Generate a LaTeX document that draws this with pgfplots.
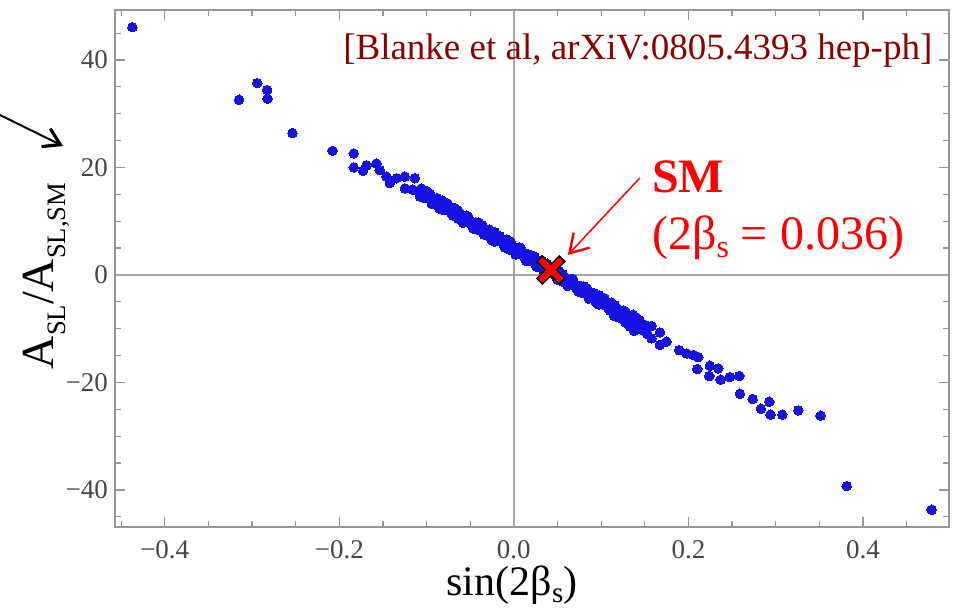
\documentclass[border=0pt]{standalone}
\usepackage{pgfplots}
\pgfplotsset{compat=1.18}
\usepackage{pgfplotstable}
\usepackage{fontspec}
\setmainfont{Liberation Serif}
\usetikzlibrary{arrows.meta}
\definecolor{dotblue}{RGB}{22,18,228}
\definecolor{refred}{RGB}{140,0,0}
\definecolor{framegray}{RGB}{150,150,150}
\definecolor{ticklab}{RGB}{70,70,70}
% subscript: #1 size in pt, #2 drop, #3 text
\newcommand{\sub}[3]{\raisebox{-#2}{\fontsize{#1}{#1}\selectfont #3}}

\pgfplotstableread{
x y
-0.437 46.1
-0.3148 32.6
-0.294 35.7
-0.2827 34.4
-0.2823 32.8
-0.2537 26.4
-0.2078 23.1
-0.1834 22.6
-0.1834 20.0
-0.1727 19.4
-0.1688 20.4
-0.1574 20.7
-0.1536 19.5
-0.1459 18.3
-0.1421 17.1
-0.1344 18.0
-0.1249 18.3
-0.1249 16.1
-0.1135 18.0
-0.1058 16.1
-0.1077 14.6
-0.110 15.6
-0.116 15.9
}\leftdata

\pgfplotstableread{
x y
-0.104 15.61
-0.100 14.42
-0.096 15.13
-0.092 13.34
-0.088 13.74
-0.084 12.25
-0.080 13.36
-0.076 12.37
-0.072 11.58
-0.068 12.48
-0.064 10.49
-0.060 11.10
-0.056 10.31
-0.052 10.72
-0.048 9.12
-0.044 9.73
-0.040 8.54
-0.036 9.25
-0.032 7.46
-0.028 7.86
-0.024 6.37
-0.020 7.48
-0.016 6.49
-0.012 5.70
-0.008 6.60
-0.004 4.61
0.000 5.22
0.004 4.43
0.008 4.84
0.012 3.24
0.016 3.85
0.020 2.66
0.024 3.37
0.028 1.58
0.032 1.98
0.036 0.49
0.040 1.60
0.044 0.61
0.048 -0.18
0.052 0.72
0.056 -1.27
0.060 -0.66
0.064 -1.45
0.068 -1.04
0.072 -2.64
0.076 -2.03
0.080 -3.22
0.084 -2.51
0.088 -4.30
0.092 -3.90
0.096 -5.39
0.100 -4.28
0.104 -5.27
0.108 -6.06
0.112 -5.16
0.116 -7.15
0.120 -6.54
0.124 -7.33
0.128 -6.92
0.132 -8.52
0.136 -7.91
0.140 -9.10
0.144 -8.39
}\bandA

\pgfplotstableread{
x y
-0.102 14.32
-0.098 15.22
-0.094 13.93
-0.090 14.14
-0.086 12.55
-0.082 13.86
-0.078 12.16
-0.074 12.27
-0.070 12.38
-0.066 10.89
-0.062 11.30
-0.058 9.70
-0.054 11.01
-0.050 9.72
-0.046 9.63
-0.042 8.44
-0.038 9.34
-0.034 8.05
-0.030 8.26
-0.026 6.67
-0.022 7.98
-0.018 6.28
-0.014 6.39
-0.010 6.50
-0.006 5.01
-0.002 5.42
0.002 3.82
0.006 5.13
0.010 3.84
0.014 3.75
0.018 2.56
0.022 3.46
0.026 2.17
0.030 2.38
0.034 0.79
0.038 2.10
0.042 0.40
0.046 0.51
0.050 0.62
0.054 -0.87
0.058 -0.46
0.062 -2.06
0.066 -0.75
0.070 -2.04
0.074 -2.13
0.078 -3.32
0.082 -2.42
0.086 -3.71
0.090 -3.50
0.094 -5.09
0.098 -3.78
0.102 -5.48
0.106 -5.37
0.110 -5.26
0.114 -6.75
0.118 -6.34
0.122 -7.94
0.126 -6.63
0.130 -7.92
0.134 -8.01
0.138 -9.20
0.142 -8.30
0.115 -7.6
0.120 -7.9
0.128 -8.9
0.133 -9.6
0.138 -10.4
}\bandB

\pgfplotstableread{
x y
-0.100 15.62
-0.094 13.23
-0.088 14.29
-0.082 12.16
-0.076 13.27
-0.070 11.08
-0.064 11.99
-0.058 9.70
-0.052 10.72
-0.046 8.63
-0.040 9.74
-0.034 7.50
-0.028 8.46
-0.022 6.18
-0.016 7.19
-0.010 5.10
-0.004 6.21
0.002 3.97
0.008 4.94
0.014 2.65
0.020 3.66
0.026 1.57
0.032 2.68
0.038 0.45
0.044 1.41
0.050 -0.88
0.056 0.13
0.062 -1.96
0.068 -0.84
0.074 -3.08
0.080 -2.12
0.086 -4.41
0.092 -3.40
0.098 -5.48
0.104 -4.37
0.110 -6.61
0.116 -5.65
0.122 -7.94
0.128 -6.92
0.134 -9.01
0.140 -7.90
}\bandC

\pgfplotstableread{
x y
0.1368 -7.4
0.141 -9.9
0.1463 -10.2
0.150 -9.3
0.153 -11.0
0.1578 -9.5
0.1578 -11.8
0.1673 -10.7
0.1673 -13.0
0.175 -12.4
0.1895 -14.0
0.1979 -14.6
0.2055 -14.9
0.2113 -15.3
0.2101 -17.5
0.2246 -16.9
0.2239 -18.8
0.2342 -17.4
0.2369 -19.5
0.2476 -19.0
0.2583 -18.8
0.259 -22.1
0.2736 -23.1
0.2831 -24.9
0.2927 -23.6
0.2942 -26.0
0.3076 -26.0
0.3259 -25.2
0.3515 -26.2
0.3813 -39.3
0.4787 -43.7
}\rightdata

\begin{document}
\begin{tikzpicture}
\begin{axis}[
  scale only axis, width=417pt, height=258.5pt,
  xmin=-0.457, xmax=0.4986, ymin=-46.9, ymax=49.3,
  xtick={-0.4,-0.2,0,0.2,0.4},
  xticklabels={−0.4,−0.2,0.0,0.2,0.4},
  ytick={-40,-20,0,20,40},
  yticklabels={−40,−20,0,20,40},
  minor xtick={-0.45,-0.35,-0.3,-0.25,-0.15,-0.1,-0.05,0.05,0.1,0.15,0.25,0.3,0.35,0.45},
  minor ytick={-45,-35,-30,-25,-15,-10,-5,5,10,15,25,30,35,45},
  tick align=inside,
  major tick length=5pt, minor tick length=3pt,
  axis line style={framegray, line width=0.8pt},
  every tick/.style={framegray, line width=0.6pt},
  tick label style={font=\fontsize{13.5}{15}\selectfont, text=ticklab},
  xticklabel style={yshift=-3pt},
  xlabel={sin(2β\sub{14.5pt}{3.2pt}{s})},
  ylabel={A\sub{13.3pt}{6pt}{SL}/A\sub{13.3pt}{6pt}{SL,SM}},
  xlabel style={font=\fontsize{21}{24}\selectfont, at={(axis description cs:0.476,-0.133)}, anchor=base},
  ylabel style={font=\fontsize{23}{26}\selectfont, at={(axis description cs:-0.0743,0.4855)}, anchor=base},
  dots/.style={only marks, color=dotblue, mark=*, mark size=2.4pt, mark options={draw=dotblue, fill=dotblue, line width=0pt}},
]
\draw[framegray!85, line width=0.8pt] (axis cs:0,-46.9) -- (axis cs:0,49.3);
\draw[framegray!85, line width=0.8pt] (axis cs:-0.457,0) -- (axis cs:0.4986,0);
\addplot[dots] table {\leftdata};
\addplot[dots] table {\bandA};
\addplot[dots] table {\bandB};
\addplot[dots] table {\bandC};
\addplot[dots] table {\rightdata};
\addplot[only marks, mark=x, mark size=8.3pt, mark options={draw=black, line width=4.6pt}] coordinates {(0.0424,0.93)};
\addplot[only marks, mark=x, mark size=7.4pt, mark options={draw=red, line width=3.1pt}] coordinates {(0.0424,0.93)};
\draw[red, line width=0.75pt, -{Straight Barb[length=9pt, width=11pt, line width=1.2pt]}] (axis cs:0.1444,18.05) -- (axis cs:0.0619,3.72);
\node[anchor=base west, text=red, font=\fontsize{24}{26}\selectfont\bfseries, inner sep=0pt] at (axis cs:0.158,15.4) {SM};
\node[anchor=base west, text=red, font=\fontsize{24}{26}\selectfont, inner sep=0pt] at (axis cs:0.158,4.65) {(2β\sub{16pt}{4pt}{s} = 0.036)};
\node[anchor=base east, text=refred, font=\fontsize{18.5}{21}\selectfont, inner sep=0pt] at (axis cs:0.480,40.0) {[Blanke et al, arXiV:0805.4393 hep-ph]};
\end{axis}
\draw[black, line width=1pt, -{Straight Barb[length=8pt, width=10pt, line width=1.6pt]}] (-67.5pt,210.9pt) -- (-26pt,190.5pt);
\pgfresetboundingbox
\useasboundingbox (-57.5pt,-41pt) rectangle (420pt,263.5pt);
\end{tikzpicture}
\end{document}
